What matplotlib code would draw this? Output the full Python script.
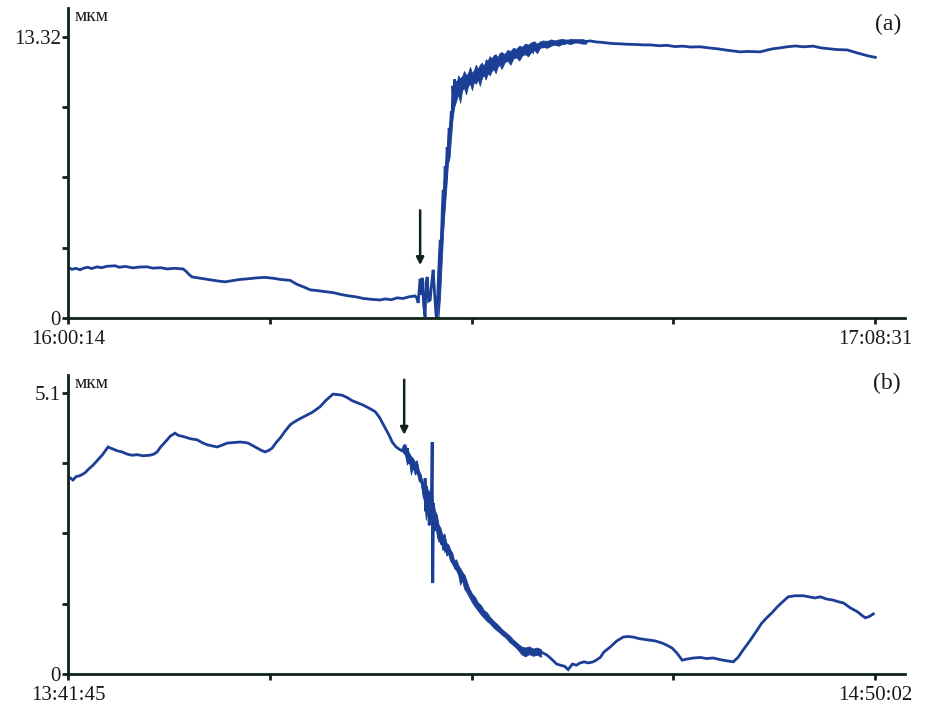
import matplotlib.pyplot as plt
import numpy as np

# Panel (a): time in seconds from 16:00:14, displacement in um
t_a = [0, 20, 40, 61, 80, 100, 120, 147, 170, 200, 239, 260, 290, 330, 360, 401, 430, 470,
       503, 540, 584, 600, 615, 630, 670, 720, 760, 797, 830, 870, 920, 960, 1000, 1040,
       1080, 1127, 1160, 1200, 1229, 1260, 1300, 1350, 1380, 1420, 1460, 1500, 1540, 1584,
       1610, 1640, 1670, 1700, 1730, 1762, 1770, 1777, 1782, 1787, 1792, 1797, 1805, 1812,
       1817, 1823, 1830, 1838, 1845, 1853, 1860, 1868, 1873, 1878, 1884, 1889, 1894, 1899,
       1904, 1909, 1914, 1919, 1924, 1929, 1934, 1939, 1945, 1950, 1953, 1957, 1962, 1967,
       1972, 1977, 1982, 1987, 1992, 1997, 2003, 2010, 2017, 2024, 2031, 2038, 2045, 2052,
       2060, 2067, 2075, 2082, 2090, 2097, 2105, 2112, 2120, 2127, 2135, 2142, 2150, 2157,
       2165, 2172, 2180, 2188, 2195, 2203, 2211, 2219, 2227, 2235, 2244, 2252, 2260, 2268,
       2277, 2286, 2295, 2304, 2313, 2322, 2331, 2340, 2350, 2360, 2370, 2380, 2396, 2410,
       2430, 2445, 2462, 2480, 2500, 2520, 2533, 2550, 2570, 2590, 2610, 2630, 2650, 2680,
       2710, 2736, 2770, 2802, 2840, 2880, 2920, 2955, 3000, 3040, 3080, 3120, 3160, 3209,
       3250, 3300, 3350, 3412, 3450, 3513, 3550, 3580, 3615, 3650, 3691, 3730, 3782, 3820,
       3860, 3900, 3955, 3990, 4030, 4060, 4087, 4097]
v_a = [2.40, 2.30, 2.35, 2.28, 2.36, 2.40, 2.34, 2.42, 2.38, 2.45, 2.47, 2.40, 2.44, 2.37,
       2.41, 2.42, 2.36, 2.38, 2.32, 2.35, 2.32, 2.20, 2.05, 1.94, 1.88, 1.80, 1.75, 1.71,
       1.76, 1.82, 1.86, 1.90, 1.92, 1.88, 1.82, 1.78, 1.60, 1.45, 1.33, 1.30, 1.25, 1.19,
       1.12, 1.05, 1.00, 0.92, 0.88, 0.85, 0.90, 0.86, 0.95, 0.92, 1.00, 1.04, 0.95, 0.71,
       1.30, 1.85, 1.10, 1.90, 0.60, 0.05, 1.70, 1.94, 0.80, 0.85, 1.60, 2.28, 1.20, 0.10,
       0.00, 1.50, 2.80, 3.70, 3.20, 5.00, 6.07, 5.60, 7.20, 6.60, 8.10, 7.70, 9.00, 8.60,
       9.80, 9.72, 11.00, 10.50, 11.30, 10.40, 11.20, 10.60, 11.25, 10.90, 11.35, 10.70,
       11.40, 10.90, 11.50, 11.00, 11.45, 11.05, 11.60, 11.10, 11.55, 11.20, 11.80, 11.25,
       11.70, 11.30, 11.95, 11.50, 12.00, 11.55, 12.10, 11.70, 12.20, 11.80, 12.25, 11.85,
       12.30, 12.00, 12.40, 12.05, 12.45, 12.15, 12.50, 12.20, 12.55, 12.30, 12.60, 12.35,
       12.65, 12.40, 12.70, 12.45, 12.75, 12.55, 12.80, 12.60, 12.85, 12.65, 12.95, 12.75,
       12.95, 12.85, 13.05, 12.90, 13.08, 12.98, 13.10, 13.00, 13.12, 13.05, 13.14, 13.08,
       13.15, 13.10, 13.13, 13.08, 13.06, 13.03, 13.00, 12.99, 12.97, 12.96, 12.94, 12.94,
       12.90, 12.92, 12.86, 12.88, 12.84, 12.85, 12.80, 12.75, 12.68, 12.61, 12.63, 12.61,
       12.70, 12.76, 12.80, 12.85, 12.89, 12.85, 12.88, 12.80, 12.76, 12.72, 12.70, 12.60,
       12.50, 12.42, 12.37, 12.35]

# Noise envelope of the fast rise in panel (a)
env_t_a = [1880, 1888, 1896, 1904, 1912, 1920, 1928, 1936, 1944, 1952,
           1960, 1970, 1980, 1990, 2000, 2010, 2020, 2030, 2040, 2050,
           2060, 2070, 2080, 2090, 2100, 2110, 2120, 2130, 2140, 2150,
           2160, 2170, 2180, 2190, 2200, 2215, 2230, 2245, 2260, 2275,
           2290, 2305, 2320, 2335, 2350, 2365, 2380, 2395, 2410, 2430,
           2450, 2470, 2490, 2510, 2530, 2550, 2570, 2590, 2610, 2630]
env_lo_a = [0.0, 1.0, 2.6, 4.1, 5.2, 6.2, 7.3, 7.6, 8.6, 9.5,
            10.0, 10.3, 10.6, 10.2, 10.8, 10.9, 10.6, 11.0, 11.1, 10.8,
            11.2, 11.1, 11.3, 11.0, 11.4, 11.5, 11.3, 11.6, 11.5, 11.7,
            11.8, 11.6, 11.9, 12.0, 11.8, 12.1, 12.2, 12.0, 12.3, 12.35,
            12.2, 12.45, 12.5, 12.4, 12.6, 12.7, 12.55, 12.8, 12.85, 12.8,
            12.9, 12.95, 12.9, 13.0, 13.02, 12.98, 13.05, 13.05, 13.0, 13.0]
env_hi_a = [2.5, 3.8, 5.0, 6.2, 7.2, 7.8, 8.8, 9.3, 9.9, 10.9,
            11.3, 11.0, 11.5, 11.3, 11.45, 11.7, 11.5, 11.6, 11.9, 11.6,
            11.75, 12.0, 11.8, 12.0, 12.1, 11.9, 12.25, 12.2, 12.4, 12.3,
            12.45, 12.5, 12.35, 12.55, 12.6, 12.5, 12.7, 12.65, 12.8, 12.75,
            12.9, 12.85, 13.0, 12.95, 13.05, 13.1, 13.0, 13.1, 13.15, 13.12,
            13.2, 13.15, 13.2, 13.22, 13.18, 13.22, 13.2, 13.22, 13.18, 13.15]

# Panel (b): time in seconds from 13:41:45
t_b = [0, 10, 25, 40, 61, 86, 105, 127, 150, 175, 203, 215, 230, 250, 274, 300, 325, 350,
       380, 416, 435, 452, 470, 503, 520, 543, 560, 594, 620, 655, 680, 706, 730, 756, 780,
       807, 840, 873, 900, 914, 940, 960, 980, 1000, 1020, 1036, 1056, 1076, 1100, 1127,
       1142, 1170, 1213, 1240, 1279, 1310, 1345, 1370, 1391, 1420, 1442, 1470, 1498, 1530,
       1559, 1580, 1609, 1630, 1645, 1665, 1685, 1695, 1705, 1711, 1716, 1722, 1728, 1736,
       1742, 1750, 1760, 1770, 1782, 1790, 1800, 1808, 1812, 1816, 1820, 1825, 1829, 1833,
       1838, 1843, 1848, 1851, 1855, 1860, 1866, 1873, 1880, 1888, 1895, 1905, 1915, 1925,
       1939, 1950, 1960, 1972, 1985, 2000, 2010, 2020, 2030, 2041, 2055, 2070, 2085, 2100,
       2120, 2140, 2158, 2175, 2193, 2210, 2244, 2270, 2295, 2320, 2345, 2361, 2380, 2400,
       2432, 2460, 2480, 2498, 2520, 2538, 2560, 2580, 2599, 2620, 2640, 2665, 2680, 2701,
       2720, 2752, 2785, 2818, 2840, 2868, 2900, 2939, 2980, 3016, 3040, 3066, 3090, 3117,
       3140, 3173, 3210, 3240, 3275, 3310, 3340, 3376, 3400, 3427, 3460, 3498, 3520, 3549,
       3575, 3600, 3630, 3655, 3690, 3732, 3760, 3790, 3818, 3850, 3884, 3910, 3935, 3970,
       4006, 4030, 4046, 4065, 4087]
v_b = [3.58, 3.56, 3.52, 3.58, 3.60, 3.65, 3.72, 3.79, 3.88, 3.98, 4.12, 4.10, 4.08, 4.05,
       4.03, 3.99, 3.97, 3.98, 3.96, 3.97, 3.99, 4.03, 4.12, 4.25, 4.32, 4.37, 4.33, 4.30,
       4.27, 4.25, 4.20, 4.16, 4.14, 4.12, 4.15, 4.19, 4.20, 4.21, 4.20, 4.19, 4.14, 4.10,
       4.06, 4.03, 4.06, 4.10, 4.20, 4.28, 4.40, 4.52, 4.56, 4.62, 4.70, 4.75, 4.85, 4.97,
       5.08, 5.07, 5.06, 5.01, 4.96, 4.92, 4.88, 4.82, 4.76, 4.66, 4.47, 4.33, 4.21, 4.12,
       4.07, 4.05, 4.12, 4.16, 4.00, 4.10, 3.82, 3.95, 3.80, 3.88, 3.70, 3.78, 3.60, 3.55,
       3.42, 3.20, 3.55, 2.95, 3.40, 3.00, 3.25, 2.70, 3.30, 2.80, 4.21, 1.65, 3.10, 2.60,
       2.90, 2.70, 2.55, 2.60, 2.35, 2.45, 2.25, 2.30, 2.15, 2.05, 1.98, 1.94, 1.85, 1.80,
       1.78, 1.60, 1.50, 1.45, 1.35, 1.30, 1.18, 1.12, 1.05, 0.98, 0.93, 0.85, 0.78, 0.72,
       0.62, 0.52, 0.42, 0.44, 0.40, 0.42, 0.38, 0.40, 0.34, 0.25, 0.18, 0.16, 0.14, 0.08,
       0.18, 0.16, 0.20, 0.22, 0.20, 0.22, 0.25, 0.30, 0.40, 0.49, 0.60, 0.67, 0.68, 0.67,
       0.64, 0.62, 0.60, 0.56, 0.52, 0.47, 0.38, 0.25, 0.27, 0.29, 0.30, 0.28, 0.29, 0.26,
       0.24, 0.22, 0.30, 0.44, 0.60, 0.80, 0.92, 1.03, 1.12, 1.22, 1.32, 1.40, 1.42, 1.42,
       1.40, 1.38, 1.40, 1.36, 1.34, 1.31, 1.29, 1.20, 1.13, 1.06, 1.02, 1.04, 1.09]

# Noise envelope of the descent in panel (b)
env_t_b = [1700, 1710, 1720, 1730, 1740, 1750, 1760, 1770, 1780, 1790,
           1800, 1808, 1816, 1824, 1832, 1840, 1848, 1856, 1864, 1872,
           1880, 1890, 1900, 1910, 1920, 1930, 1940, 1950, 1960, 1970,
           1980, 1990, 2000, 2010, 2020, 2035, 2050, 2065, 2080, 2095,
           2110, 2125, 2140, 2160, 2180, 2200, 2220, 2240, 2260, 2280,
           2300, 2320, 2340, 2360, 2380, 2400]
env_lo_b = [4.02, 3.98, 3.80, 3.88, 3.62, 3.75, 3.62, 3.66, 3.50, 3.48,
            3.25, 3.10, 2.80, 2.95, 2.70, 2.85, 2.75, 2.60, 2.72, 2.50,
            2.40, 2.45, 2.25, 2.30, 2.15, 2.18, 2.05, 2.00, 1.92, 1.88,
            1.80, 1.62, 1.70, 1.55, 1.50, 1.40, 1.30, 1.22, 1.15, 1.08,
            1.02, 0.96, 0.92, 0.84, 0.78, 0.72, 0.66, 0.58, 0.52, 0.46,
            0.36, 0.32, 0.36, 0.33, 0.35, 0.31]
env_hi_b = [4.16, 4.14, 4.10, 4.02, 3.95, 3.92, 3.85, 3.88, 3.70, 3.62,
            3.45, 3.50, 3.45, 3.35, 3.30, 3.38, 3.20, 3.05, 2.95, 2.88,
            2.72, 2.65, 2.52, 2.55, 2.38, 2.35, 2.26, 2.20, 2.06, 2.08,
            1.98, 1.92, 1.86, 1.80, 1.72, 1.56, 1.46, 1.40, 1.30, 1.25,
            1.16, 1.12, 1.04, 0.96, 0.90, 0.82, 0.76, 0.70, 0.62, 0.56,
            0.50, 0.48, 0.50, 0.46, 0.48, 0.45]

x_labels_a = ["16:00:14", "17:08:31"]
x_labels_b = ["13:41:45", "14:50:02"]
duration = 4097  # 68 min 17 s
y_max_a = 13.32
y_max_b = 5.1
arrow_a = (1787, 5.1, 2.5)
arrow_b = (1706, 5.34, 4.34)

LINE = "#1c3f96"
DARK = "#0f2418"
FONT = "Liberation Serif"

fig = plt.figure(figsize=(9.45, 7.16), dpi=100)
ax_a = fig.add_axes([0.072, 0.556, 0.886, 0.433])
ax_b = fig.add_axes([0.072, 0.0587, 0.886, 0.4176])


def style_axis(ax, t, v, env, y_max, y_top, x_labels, panel, label_y, arrow):
    ax.fill_between(env[0], env[1], env[2], color=LINE, lw=0.6)
    ax.plot(t, v, color=LINE, lw=2.0, solid_joinstyle="miter")
    ax.set_xlim(0, duration * 837 / 807)
    ax.set_ylim(0, y_top)
    for side in ("top", "right"):
        ax.spines[side].set_visible(False)
    for side in ("left", "bottom"):
        ax.spines[side].set_color(DARK)
        ax.spines[side].set_linewidth(2)

    ax.set_yticks([0, y_max])
    ax.set_yticklabels(["0", f"{y_max:g}"])
    ax.set_yticks(np.linspace(0, y_max, 5)[1:-1], minor=True)
    xt = np.linspace(0, duration, 5)
    ax.set_xticks([xt[0], xt[-1]])
    ax.set_xticklabels(x_labels)
    ax.set_xticks(xt[1:-1], minor=True)
    ax.tick_params(which="both", direction="out", length=4, width=2, color=DARK,
                   labelsize=15, labelcolor="#1a1a1a", pad=1)
    ax.tick_params(axis="x", which="major", pad=5)
    for lab in ax.get_xticklabels() + ax.get_yticklabels():
        lab.set_fontfamily(FONT)

    ax.text(0.008, 1.0, "мкм", transform=ax.transAxes, fontsize=14, family=FONT,
            va="top", ha="left", color="#1a1a1a")
    ax.text(0.995, label_y, panel, transform=ax.transAxes, fontsize=17, family=FONT,
            va="center", ha="right", color="#1a1a1a")
    ax.annotate("", xy=(arrow[0], arrow[2]), xytext=(arrow[0], arrow[1]),
                arrowprops=dict(arrowstyle="-|>", color=DARK, lw=1.8, mutation_scale=11,
                                shrinkA=0, shrinkB=0))


style_axis(ax_a, t_a, v_a, (env_t_a, env_lo_a, env_hi_a), y_max_a, y_max_a * 310 / 281,
           x_labels_a, "(a)", 0.945, arrow_a)
style_axis(ax_b, t_b, v_b, (env_t_b, env_lo_b, env_hi_b), y_max_b, y_max_b * 299 / 281,
           x_labels_b, "(b)", 0.973, arrow_b)

fig.savefig("out.png", dpi=100)
